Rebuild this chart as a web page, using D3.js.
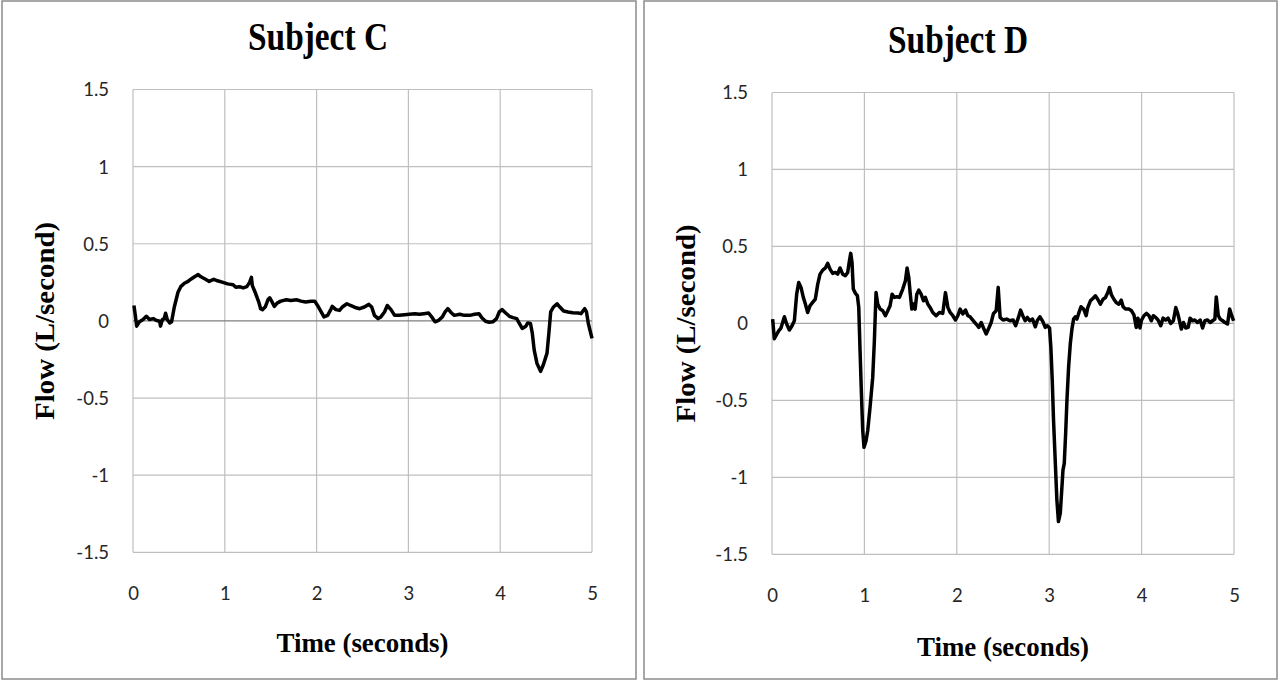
<!DOCTYPE html>
<html>
<head>
<meta charset="utf-8">
<script src="https://cdn.jsdelivr.net/npm/d3@7"></script>
<style>
  body { margin: 0; background: #fff; }
  svg { display: block; }
</style>
</head>
<body>
<div class="chart"></div>
<script>
var svgWidth = 1280;
var svgHeight = 682;

// tick values shared by both panels
var xTicks = [0, 1, 2, 3, 4, 5];
var yTicks = [1.5, 1, 0.5, 0, -0.5, -1, -1.5];

// Subject C
var timeC = [0.01, 0.025, 0.04, 0.07, 0.11, 0.145, 0.18, 0.22, 0.25, 0.29, 0.30, 0.32, 0.34, 0.355, 0.373, 0.40, 0.42,
  0.45, 0.49, 0.52, 0.56, 0.60, 0.63, 0.67, 0.71, 0.74, 0.79, 0.83, 0.88, 0.92, 0.98, 1.03, 1.09, 1.12, 1.16, 1.20,
  1.24, 1.27, 1.29, 1.30, 1.33, 1.37, 1.39, 1.41, 1.44, 1.47, 1.49, 1.51, 1.54, 1.57, 1.61, 1.67, 1.72, 1.78, 1.83,
  1.88, 1.94, 1.98, 2.01, 2.05, 2.08, 2.12, 2.15, 2.17, 2.21, 2.25, 2.28, 2.33, 2.37, 2.43, 2.47, 2.52, 2.57, 2.60,
  2.63, 2.67, 2.70, 2.74, 2.77, 2.81, 2.85, 2.90, 2.96, 3.01, 3.07, 3.12, 3.17, 3.22, 3.26, 3.29, 3.33, 3.37, 3.40,
  3.43, 3.47, 3.50, 3.56, 3.61, 3.67, 3.72, 3.77, 3.80, 3.84, 3.88, 3.92, 3.96, 3.99, 4.02, 4.06, 4.10, 4.14, 4.18,
  4.21, 4.24, 4.28, 4.30, 4.33, 4.35, 4.37, 4.40, 4.44, 4.47, 4.51, 4.53, 4.55, 4.58, 4.62, 4.65, 4.69, 4.74, 4.79,
  4.85, 4.88, 4.92, 4.94, 4.96, 5.00];
var flowC = [0.10, 0.036, -0.034, -0.006, 0.009, 0.03, 0.009, 0.015, 0.004, -0.002, -0.034, 0.009, 0.015, 0.05, 0.009, -0.013, -0.006,
  0.09, 0.186, 0.222, 0.244, 0.256, 0.27, 0.286, 0.30, 0.286, 0.27, 0.256, 0.27, 0.26, 0.25, 0.24, 0.235, 0.218, 0.222, 0.214,
  0.222, 0.25, 0.282, 0.229, 0.186, 0.122, 0.079, 0.073, 0.09, 0.137, 0.15, 0.128, 0.094, 0.115, 0.128, 0.137, 0.132, 0.137, 0.128,
  0.122, 0.128, 0.128, 0.10, 0.058, 0.026, 0.036, 0.068, 0.094, 0.073, 0.068, 0.09, 0.111, 0.10, 0.085, 0.079, 0.09, 0.107, 0.09,
  0.036, 0.015, 0.026, 0.058, 0.10, 0.073, 0.036, 0.036, 0.04, 0.043, 0.047, 0.043, 0.047, 0.051, 0.021, -0.006, 0.004, 0.026, 0.058,
  0.079, 0.051, 0.036, 0.043, 0.036, 0.036, 0.043, 0.047, 0.021, -0.002, -0.009, -0.006, 0.015, 0.058, 0.073, 0.051, 0.03, 0.021, 0.015,
  -0.017, -0.049, -0.034, -0.013, -0.017, -0.081, -0.188, -0.274, -0.327, -0.284, -0.209, -0.081, 0.058, 0.09, 0.111, 0.09, 0.064, 0.058, 0.053,
  0.051, 0.047, 0.079, 0.058, -0.017, -0.113];

// Subject D
var timeD = [0.007, 0.025, 0.043, 0.072, 0.097, 0.134, 0.159, 0.188, 0.217, 0.242, 0.267, 0.289, 0.314, 0.339, 0.361, 0.386, 0.412,
  0.44, 0.469, 0.495, 0.52, 0.549, 0.578, 0.603, 0.628, 0.657, 0.686, 0.711, 0.736, 0.765, 0.794, 0.819, 0.838, 0.852, 0.866,
  0.88, 0.903, 0.924, 0.939, 0.953, 0.968, 0.982, 0.996, 1.018, 1.036, 1.061, 1.09, 1.108, 1.126, 1.144, 1.17, 1.199, 1.227,
  1.253, 1.278, 1.30, 1.325, 1.35, 1.379, 1.415, 1.444, 1.462, 1.48, 1.495, 1.513, 1.531, 1.549, 1.567, 1.588, 1.614, 1.639,
  1.66, 1.686, 1.711, 1.74, 1.776, 1.812, 1.848, 1.877, 1.903, 1.928, 1.957, 1.986, 2.011, 2.036, 2.065, 2.094, 2.119, 2.144,
  2.173, 2.209, 2.238, 2.264, 2.289, 2.318, 2.347, 2.372, 2.397, 2.426, 2.448, 2.469, 2.50, 2.54, 2.576, 2.61, 2.637, 2.667,
  2.69, 2.714, 2.74, 2.764, 2.79, 2.82, 2.85, 2.87, 2.90, 2.93, 2.957, 2.98, 3.004, 3.018, 3.033, 3.047, 3.065, 3.083, 3.10,
  3.12, 3.138, 3.149, 3.163, 3.178, 3.192, 3.21, 3.228, 3.246, 3.264, 3.283, 3.30, 3.319, 3.344, 3.373, 3.40, 3.417, 3.446,
  3.475, 3.50, 3.525, 3.554, 3.583, 3.609, 3.634, 3.652, 3.674, 3.70, 3.725, 3.754, 3.78, 3.80, 3.826, 3.862, 3.891, 3.917,
  3.942, 3.96, 3.982, 4.00, 4.025, 4.054, 4.08, 4.105, 4.127, 4.152, 4.178, 4.207, 4.232, 4.26, 4.286, 4.315, 4.344, 4.37,
  4.388, 4.41, 4.43, 4.453, 4.478, 4.504, 4.525, 4.55, 4.576, 4.605, 4.634, 4.66, 4.685, 4.714, 4.743, 4.768, 4.793, 4.808,
  4.83, 4.851, 4.877, 4.902, 4.93, 4.953, 4.975, 4.996];
var flowD = [0.028, -0.10, -0.08, -0.048, -0.03, 0.043, -0.004, -0.043, -0.015, 0.017, 0.19, 0.266, 0.234, 0.169, 0.126, 0.071, 0.115,
  0.136, 0.158, 0.255, 0.32, 0.346, 0.36, 0.39, 0.353, 0.325, 0.331, 0.32, 0.36, 0.32, 0.31, 0.331, 0.407, 0.455, 0.396,
  0.223, 0.195, 0.18, 0.104, -0.178, -0.459, -0.697, -0.805, -0.762, -0.697, -0.546, -0.351, -0.113, 0.20, 0.126, 0.093, 0.082, 0.05,
  0.082, 0.115, 0.19, 0.169, 0.173, 0.169, 0.223, 0.277, 0.36, 0.30, 0.20, 0.093, 0.126, 0.093, 0.19, 0.216, 0.19, 0.147,
  0.169, 0.126, 0.104, 0.071, 0.05, 0.071, 0.065, 0.20, 0.104, 0.071, 0.05, 0.022, 0.05, 0.093, 0.061, 0.087, 0.05, 0.043,
  0.022, -0.004, -0.026, 0.006, -0.03, -0.069, -0.03, 0.006, 0.065, 0.082, 0.234, 0.039, 0.022, 0.028, 0.017, 0.022, -0.015, 0.039,
  0.086, 0.05, 0.017, 0.039, 0.017, 0.028, -0.022, 0.017, 0.043, 0.013, -0.026, -0.015, -0.03, -0.155, -0.37, -0.63, -0.888, -1.146, -1.287,
  -1.233, -1.06, -0.953, -0.909, -0.715, -0.50, -0.284, -0.134, -0.037, 0.028, 0.043, 0.028, 0.065, 0.108, 0.093, 0.05, 0.103, 0.147,
  0.164, 0.179, 0.157, 0.125, 0.157, 0.168, 0.20, 0.233, 0.185, 0.157, 0.136, 0.125, 0.151, 0.108, 0.093, 0.093, 0.082, 0.056,
  -0.026, 0.034, -0.03, 0.022, 0.05, 0.065, 0.05, 0.017, 0.05, 0.039, 0.022, -0.015, 0.034, 0.022, 0.034, 0, 0.017, 0.103,
  0.071, 0.017, -0.037, 0.006, -0.03, -0.026, 0.034, 0.017, 0.022, 0.006, 0.022, -0.03, 0.017, 0.022, 0.006, 0.017, 0.028, 0.172,
  0.05, 0.028, 0.017, 0.006, -0.004, 0.093, 0.05, 0.017];

var svg = d3.select(".chart")
  .append("svg")
  .attr("width", svgWidth)
  .attr("height", svgHeight);

// plain hyphen minus, like the original labels
var tickFmt = d => String(d);

// one panel = framed box + title + gridded plot + trace
function drawPanel(p) {
  var g = svg.append("g");

  // outer frame
  g.append("rect")
    .attr("x", p.box[0]).attr("y", p.box[1])
    .attr("width", p.box[2]).attr("height", p.box[3])
    .attr("fill", "#fff")
    .attr("stroke", "#8c8c8c")
    .attr("stroke-width", 1.5);

  var x = d3.scaleLinear().domain([0, 5]).range([p.left, p.right]);
  var y = d3.scaleLinear().domain([-1.5, 1.5]).range([p.bottom, p.top]);

  // gridlines
  g.selectAll(".vgrid").data(xTicks).enter().append("line")
    .attr("x1", d => x(d)).attr("x2", d => x(d))
    .attr("y1", p.top).attr("y2", p.bottom)
    .attr("stroke", "#bfbfbf").attr("stroke-width", 1.2);
  g.selectAll(".hgrid").data(yTicks).enter().append("line")
    .attr("x1", p.left).attr("x2", p.right)
    .attr("y1", d => y(d)).attr("y2", d => y(d))
    .attr("stroke", d => d === 0 ? p.zeroColor : "#bfbfbf")
    .attr("stroke-width", 1.2);

  // axes, labels only
  var leftAxis = d3.axisLeft(y).tickValues(yTicks).tickSize(0).tickPadding(24).tickFormat(tickFmt);
  var bottomAxis = d3.axisBottom(x).tickValues(xTicks).tickSize(0).tickPadding(0).tickFormat(tickFmt);

  var ya = g.append("g").attr("transform", `translate(${p.left},0)`).call(leftAxis);
  var xa = g.append("g").attr("transform", `translate(0,${p.bottom + 41})`).call(bottomAxis);
  [ya, xa].forEach(function (a) {
    a.select(".domain").remove();
    a.selectAll("text")
      .attr("font-family", "Lato, 'Open Sans', sans-serif")
      .attr("font-size", 18.5)
      .attr("fill", "#262626");
  });
  ya.selectAll("text").attr("dy", "0.35em");
  xa.selectAll("text").attr("dy", "0.35em").attr("y", 0);

  // trace
  var pts = p.time.map((t, i) => [t, p.flow[i]]);
  var line = d3.line().x(d => x(d[0])).y(d => y(d[1]));
  g.append("path")
    .datum(pts)
    .attr("d", line)
    .attr("fill", "none")
    .attr("stroke", "#000")
    .attr("stroke-width", 3.5)
    .attr("stroke-linejoin", "round");

  // title
  g.append("text")
    .attr("x", p.titleX).attr("y", p.titleY)
    .attr("text-anchor", "middle")
    .attr("font-family", "'Liberation Serif', 'Times New Roman', serif")
    .attr("font-weight", "bold")
    .attr("font-size", 40)
    .attr("textLength", 140)
    .attr("lengthAdjust", "spacingAndGlyphs")
    .text(p.title);

  // axis titles
  g.append("text")
    .attr("transform", `translate(${p.yTitleX}, ${(p.top + p.bottom) / 2}) rotate(-90)`)
    .attr("text-anchor", "middle")
    .attr("font-family", "'Liberation Serif', 'Times New Roman', serif")
    .attr("font-weight", "bold")
    .attr("font-size", 27)
    .attr("textLength", 198)
    .attr("lengthAdjust", "spacingAndGlyphs")
    .text("Flow (L/second)");

  g.append("text")
    .attr("x", (p.left + p.right) / 2).attr("y", p.xTitleY)
    .attr("text-anchor", "middle")
    .attr("font-family", "'Liberation Serif', 'Times New Roman', serif")
    .attr("font-weight", "bold")
    .attr("font-size", 27)
    .attr("textLength", 172)
    .attr("lengthAdjust", "spacingAndGlyphs")
    .text("Time (seconds)");
}

drawPanel({
  box: [2, 1, 634, 678],
  left: 133, right: 592, top: 89.5, bottom: 552.3,
  zeroColor: "#7f7f7f",
  title: "Subject C", titleX: 318, titleY: 50,
  yTitleX: 54, xTitleY: 652,
  time: timeC, flow: flowC
});

drawPanel({
  box: [644, 1, 633, 678],
  left: 772, right: 1234, top: 92.5, bottom: 554.3,
  zeroColor: "#a6a6a6",
  title: "Subject D", titleX: 958, titleY: 53,
  yTitleX: 695, xTitleY: 656,
  time: timeD, flow: flowD
});
</script>
</body>
</html>
